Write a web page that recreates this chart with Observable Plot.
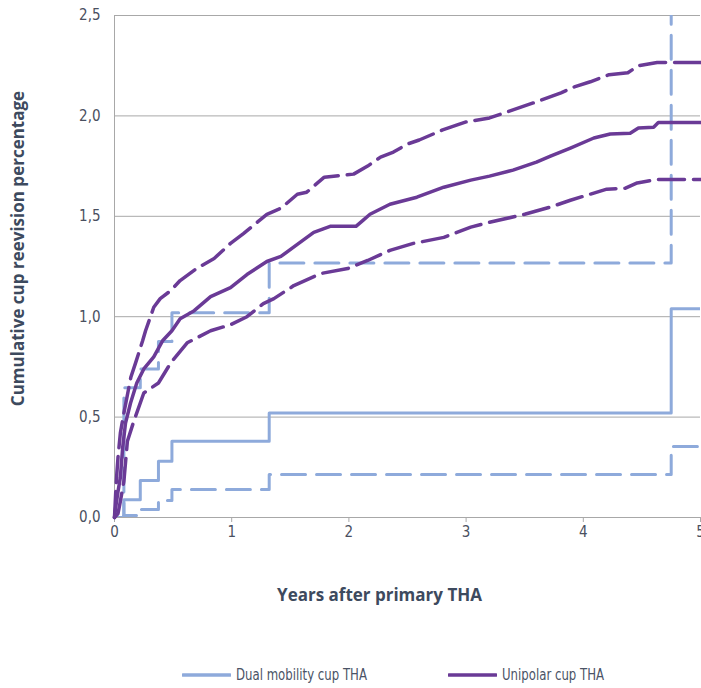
<!DOCTYPE html>
<html>
<head>
<meta charset="utf-8">
<script src="https://cdn.jsdelivr.net/npm/d3@7"></script>
<script src="https://cdn.jsdelivr.net/npm/@observablehq/plot@0.6"></script>
<style>
  html, body { margin: 0; padding: 0; background: #fff; }
  #wrap { position: relative; width: 701px; height: 688px; }
  .cond { font-family: "Liberation Sans Narrow", "DejaVu Sans Condensed", "Roboto", sans-serif; }
  #legend { position: absolute; left: 0; top: 640px; width: 701px; height: 48px; }
  .item { position: absolute; top: 26px; display: flex; align-items: center; font-size: 15px; color: #4a5366; white-space: nowrap; }
  .item svg { margin-right: 5px; }
  .item span { display: inline-block; transform: scaleX(0.87); transform-origin: left center; }
</style>
</head>
<body>
<div id="wrap">
  <div id="chart"></div>
  <div id="legend"></div>
</div>
<script>
// ---- Data ----
const xTicks = [0, 1, 2, 3, 4, 5];
const yTicks = [0, 0.5, 1.0, 1.5, 2.0, 2.5];

// Dual mobility cup THA (Kaplan-Meier step function + 95% CI)
const dmYears = [0, 0.08, 0.22, 0.375, 0.49, 1.32, 4.75, 5];
const dmEst   = [0, 0.088, 0.184, 0.28, 0.38, 0.52, 1.04, 1.04];
const dmLow   = [0, 0.01, 0.04, 0.085, 0.14, 0.214, 0.354, 0.354];
const dmHigh  = [0, 0.646, 0.74, 0.876, 1.02, 1.268, 3.0, 3.0];

// Unipolar cup THA
const uniYears = [0, 0.01, 0.02, 0.03, 0.05, 0.07, 0.094, 0.137, 0.19, 0.25, 0.335, 0.41, 0.49, 0.56, 0.68, 0.82, 0.99, 1.13, 1.30, 1.42, 1.56, 1.70, 1.84, 2.06, 2.12, 2.18, 2.35, 2.58, 2.81, 3.04, 3.2, 3.4, 3.6, 3.72, 3.89, 4.09, 4.23, 4.40, 4.47, 4.60, 4.64, 5.0];
const uniEst   = [0, 0.05, 0.09, 0.13, 0.2, 0.35, 0.47, 0.57, 0.67, 0.74, 0.80, 0.88, 0.93, 0.99, 1.03, 1.10, 1.145, 1.21, 1.275, 1.30, 1.36, 1.42, 1.45, 1.45, 1.48, 1.51, 1.56, 1.595, 1.645, 1.68, 1.70, 1.73, 1.77, 1.80, 1.84, 1.89, 1.91, 1.914, 1.94, 1.944, 1.967, 1.967];

const uniHighYears = [0, 0.01, 0.02, 0.03, 0.05, 0.08, 0.14, 0.18, 0.24, 0.265, 0.335, 0.39, 0.48, 0.56, 0.7, 0.85, 0.99, 1.10, 1.30, 1.42, 1.56, 1.64, 1.79, 1.87, 2.04, 2.16, 2.27, 2.38, 2.5, 2.6, 2.8, 3.0, 3.2, 3.4, 3.6, 3.81, 3.93, 4.06, 4.22, 4.38, 4.47, 4.63, 5];
const uniHigh      = [0, 0.12, 0.22, 0.3, 0.42, 0.52, 0.70, 0.77, 0.88, 0.93, 1.047, 1.09, 1.13, 1.18, 1.24, 1.29, 1.365, 1.414, 1.51, 1.54, 1.61, 1.62, 1.695, 1.70, 1.71, 1.75, 1.795, 1.82, 1.86, 1.88, 1.93, 1.97, 1.99, 2.03, 2.07, 2.115, 2.146, 2.17, 2.205, 2.215, 2.25, 2.266, 2.266];

const uniLowYears = [0, 0.03, 0.05, 0.08, 0.11, 0.165, 0.25, 0.375, 0.48, 0.62, 0.82, 0.99, 1.13, 1.27, 1.36, 1.53, 1.76, 1.99, 2.16, 2.35, 2.55, 2.81, 3.04, 3.2, 3.5, 3.72, 3.89, 4.03, 4.2, 4.36, 4.46, 4.63, 5];
const uniLow      = [0, 0.02, 0.08, 0.18, 0.38, 0.48, 0.62, 0.67, 0.77, 0.87, 0.93, 0.96, 1.0, 1.065, 1.09, 1.155, 1.215, 1.24, 1.28, 1.33, 1.365, 1.395, 1.446, 1.47, 1.51, 1.546, 1.58, 1.605, 1.635, 1.64, 1.666, 1.683, 1.683];

const seriesNames = ["Dual mobility cup THA", "Unipolar cup THA"];
const xTitle = "Years after primary THA";
const yTitle = "Cumulative cup reevision percentage";

// ---- Build ----
const zip = (xs, ys) => xs.map((x, i) => ({x, y: ys[i]}));
const BLUE = "#8eaadb";
const PURPLE = "#6a3a96";
const GRID = "#a8a8a8";
const font = '"Liberation Sans Narrow", "DejaVu Sans Condensed", Roboto, sans-serif';
const boldFont = '"Open Sans", Lato, sans-serif';

const chart = Plot.plot({
  width: 701,
  height: 640,
  marginLeft: 114,
  marginRight: 1,
  marginTop: 15,
  marginBottom: 123,
  style: {fontFamily: font, fontSize: "15px", color: "#4a5060", background: "#fff", overflow: "visible"},
  x: {domain: [0, 5]},
  y: {domain: [0, 2.5]},
  marks: [
    Plot.ruleY(yTicks, {stroke: GRID, strokeWidth: 1}),
    Plot.ruleX([0], {stroke: GRID, strokeWidth: 1}),
    Plot.axisY({ticks: yTicks, tickSize: 0, tickPadding: 14, tickFormat: d => d.toFixed(1).replace(".", ","), label: null, fontSize: 15}),
    Plot.axisX({ticks: xTicks, tickSize: 5, tickPadding: 4, stroke: GRID, tickFormat: d => String(d), label: null, fontSize: 15}),
    // Dual mobility
    Plot.line(zip(dmYears, dmLow), {x: "x", y: "y", curve: "step-after", stroke: BLUE, strokeWidth: 3, strokeDasharray: "24 11", clip: true}),
    Plot.line(zip(dmYears, dmHigh), {x: "x", y: "y", curve: "step-after", stroke: BLUE, strokeWidth: 3, strokeDasharray: "24 11", clip: true}),
    Plot.line(zip(dmYears, dmEst), {x: "x", y: "y", curve: "step-after", stroke: BLUE, strokeWidth: 3, clip: true}),
    // Unipolar
    Plot.line(zip(uniLowYears, uniLow), {x: "x", y: "y", curve: "linear", stroke: PURPLE, strokeWidth: 3.5, strokeDasharray: "26 9"}),
    Plot.line(zip(uniHighYears, uniHigh), {x: "x", y: "y", curve: "linear", stroke: PURPLE, strokeWidth: 3.5, strokeDasharray: "26 9"}),
    Plot.line(zip(uniYears, uniEst), {x: "x", y: "y", curve: "linear", stroke: PURPLE, strokeWidth: 3.5}),
    // Axis titles
    Plot.text([xTitle], {frameAnchor: "bottom", textAnchor: "middle", dx: -28, dy: 83, fontSize: 17, fontWeight: "bold", fill: "#3d4a5e", fontFamily: boldFont}),
    Plot.text([yTitle], {frameAnchor: "left", textAnchor: "middle", dx: -96, dy: -18, rotate: -90, fontSize: 17, fontWeight: "bold", fill: "#3d4a5e", fontFamily: boldFont})
  ]
});
document.getElementById("chart").appendChild(chart);

// Legend
const legend = document.getElementById("legend");
const items = [
  {name: seriesNames[0], color: BLUE, left: 182},
  {name: seriesNames[1], color: PURPLE, left: 448}
];
for (const it of items) {
  const d = document.createElement("div");
  d.className = "item cond";
  d.style.left = it.left + "px";
  d.innerHTML = `<svg width="49" height="6"><line x1="1" y1="3" x2="48" y2="3" stroke="${it.color}" stroke-width="3.5" stroke-linecap="round"/></svg><span>${it.name}</span>`;
  legend.appendChild(d);
}
</script>
</body>
</html>
